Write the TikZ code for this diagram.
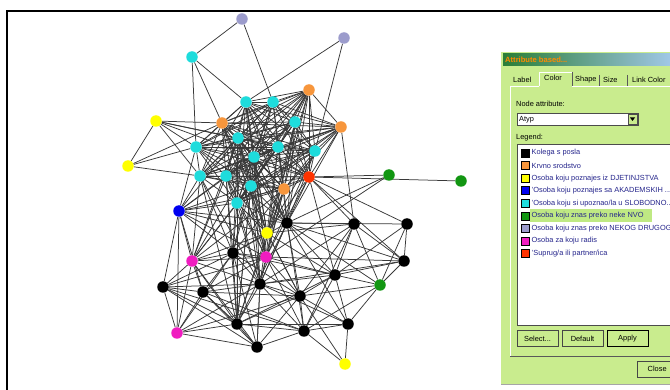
\documentclass[tikz,border=0pt]{standalone}
\usepackage{fontspec}
\setmainfont{Liberation Sans}
\usepackage{xcolor}
\definecolor{ncyan}{HTML}{1EDCDC}
\definecolor{norange}{HTML}{F7963C}
\definecolor{nlav}{HTML}{9C9CCC}
\definecolor{nyellow}{HTML}{FFFF00}
\definecolor{nblue}{HTML}{0000F0}
\definecolor{ngreen}{HTML}{129612}
\definecolor{npink}{HTML}{F01CC0}
\definecolor{nred}{HTML}{FF3300}
\definecolor{panel}{HTML}{C9EC8E}
\definecolor{rowhl}{HTML}{BFE983}
\definecolor{titlegreen}{HTML}{2A7E36}
\definecolor{titlemid}{HTML}{45975A}
\definecolor{titleblue}{HTML}{A3C9EA}
\definecolor{titleorange}{HTML}{FF8A00}
\definecolor{listtext}{HTML}{25258C}
\usepackage{tikz}
\usetikzlibrary{backgrounds}

\begin{document}
\begin{tikzpicture}[x=1pt, y=-1pt,
    dot/.style={circle, fill=#1, inner sep=0pt, minimum size=11.5pt},
    netline/.style={draw=black!78, line width=0.75pt},
    swatch/.style={draw=black, fill=#1, inner sep=0pt, minimum size=8pt},
    guitext/.style={font=\fontsize{7.4}{8}\selectfont, inner sep=0pt, anchor=west},
    btn/.style={draw=gray!55!black, fill=panel, minimum width=41pt, minimum height=16pt,
      font=\fontsize{7.4}{8}\selectfont, inner sep=0pt}]

            \useasboundingbox (0,0) rectangle (670,390);

            % frame
            \draw[line width=2pt] (7,392) -- (7,11) -- (672,11);

            % network nodes
            \node[dot=nlav] (L1) at (242,19) {};
            \node[dot=nlav] (L2) at (344,38) {};

            \node[dot=ncyan] (c1) at (192,57) {};
            \node[dot=ncyan] (c2) at (246,102) {};
            \node[dot=ncyan] (c3) at (273,102) {};
            \node[dot=ncyan] (c4) at (295,122) {};
            \node[dot=ncyan] (c5) at (238,138) {};
            \node[dot=ncyan] (c6) at (196,147) {};
            \node[dot=ncyan] (c7) at (278,147) {};
            \node[dot=ncyan] (c8) at (315,151) {};
            \node[dot=ncyan] (c9) at (254,157) {};
            \node[dot=ncyan] (c10) at (200,176) {};
            \node[dot=ncyan] (c11) at (226,176) {};
            \node[dot=ncyan] (c12) at (251,186) {};
            \node[dot=ncyan] (c13) at (237,203) {};

            \node[dot=norange] (o1) at (309,90) {};
            \node[dot=norange] (o2) at (222,123) {};
            \node[dot=norange] (o3) at (341,127) {};
            \node[dot=norange] (o4) at (284,189) {};
            \node[dot=nred] (r) at (309,177) {};

            \node[dot=nyellow] (y1) at (156,121) {};
            \node[dot=nyellow] (y2) at (128,166) {};
            \node[dot=nyellow] (y3) at (267,233) {};
            \node[dot=nyellow] (y4) at (345,364) {};
            \node[dot=nblue] (b) at (179,211) {};

            \node[dot=ngreen] (g1) at (389,175) {};
            \node[dot=ngreen] (g2) at (461,181) {};
            \node[dot=ngreen] (g3) at (380,285) {};

            \node[dot=npink] (p1) at (192,261) {};
            \node[dot=npink] (p2) at (266,257) {};
            \node[dot=npink] (p3) at (177,333) {};

            \node[dot=black] (k1) at (287,223) {};
            \node[dot=black] (k2) at (354,224) {};
            \node[dot=black] (k3) at (407,224) {};
            \node[dot=black] (k4) at (233,253) {};
            \node[dot=black] (k5) at (404,261) {};
            \node[dot=black] (k6) at (335,275) {};
            \node[dot=black] (k7) at (163,287) {};
            \node[dot=black] (k8) at (203,292) {};
            \node[dot=black] (k9) at (260,284) {};
            \node[dot=black] (k10) at (300,296) {};
            \node[dot=black] (k11) at (237,324) {};
            \node[dot=black] (k12) at (304,331) {};
            \node[dot=black] (k13) at (348,324) {};
            \node[dot=black] (k14) at (257,347) {};

            % links
            \begin{scope}[on background layer]
              \def\corelist{c2,c3,c4,c5,c6,c7,c8,c9,c10,c11,c12,c13,o1,o2,o3,o4,r}
              \foreach \a [count=\i] in \corelist {
                \foreach \b [count=\j] in \corelist {
                  \ifnum\j>\i \draw[netline] (\a) -- (\b); \fi
                }
              }
              \foreach \a in {k1,y3,p2} {
                \foreach \b in {c2,c4,c5,c7,c8,c9,c11,c12,c13,o2,o4,r} {
                  \draw[netline] (\a) -- (\b);
                }
              }
              \foreach \a in {b,k4,k9,k11,p1} {
                \foreach \b in {c5,c9,c10,c11,c12,c13,o4} {
                  \draw[netline] (\a) -- (\b);
                }
              }
              \foreach \a/\b in {L1/c1, L1/c3, L2/c2, L2/c8, c1/c2, c1/o2, c1/c6,
                  y1/y2, y1/o2, y1/c5, y1/c6, y1/c9, y1/c7, y1/c10, y2/c6, y2/c10,
                  y2/o2, o3/k2, b/c6, k1/o1, k1/o3, y3/o1}
                \draw[netline] (\a) -- (\b);
              \foreach \a/\b in {k2/k6, k2/k5, k2/g3, k2/k1, k2/k10, k2/r, k2/k12,
                  k3/k5, k3/g3, k3/k6, k3/r, k5/k6, k5/g3, k5/k1, k5/p2,
                  g3/k13, g3/k6, g3/k10, g3/k12, k6/k10, k6/k12, k6/k13, k6/k9,
                  k6/k11, k6/k4, k13/k12, k13/k11, k13/k10, k13/y4, y4/k10,
                  k12/k14, k12/k11, k12/k9, k12/k10, k12/k1, k14/k11, k14/p3,
                  k14/k7, k14/k9, k14/k8, k14/k10, k11/p3, k11/k7, k11/k8,
                  k11/k9, k11/p1, k11/y3, k11/k1, p3/k7, p3/k8, p3/b, p3/k9,
                  p3/p1, p3/k4, k7/b, k7/p1, k7/k8, k7/k9, k7/k4, k7/p2, k8/p1,
                  k8/k9, k8/k4, k8/p2, k8/k10, p1/b, p1/k4, p1/p2, p1/y3, p1/k9,
                  b/k4, b/y3, b/k1, k9/p2, k9/y3, k9/k4, k9/k10, k9/k1, k4/p2,
                  k4/y3, k4/k1, k4/k10, k10/k1, k10/p2, k10/y3, g1/k1, g1/p2,
                  r/g1, r/g2, r/k5, r/k6, k1/k6, k1/k9, y3/k6, y3/k10, p2/k6,
                  p2/k12, k4/k11, k4/k14, k9/k13, k9/k14, p1/k14, k7/k12,
                  k8/k12, k8/k11, k11/k10, b/k8, b/p2, k2/k9, k3/k1, k5/k9,
                  g3/k1, k2/y3, k13/k1, y4/k12, k11/k13, p3/k10}
                \draw[netline] (\a) -- (\b);
            \end{scope}

            % attribute panel
            \begin{scope}
              \clip (0,0) rectangle (670,390);
              \fill[panel] (501,52) rectangle (674,384);
              \draw[gray!70] (501,384) -- (674,384);
              \shade[left color=titlegreen, middle color=titlemid, right color=titleblue]
                (503,54) rectangle (674,66);
              \node[guitext, font=\fontsize{7.6}{8}\selectfont\bfseries, text=titleorange]
                (title) at (505,60) {Attribute based...};

              \draw[white] (510,356) -- (510,86) -- (539,86);
              \draw[white] (572,86) -- (674,86);
              \draw[gray!70!black] (510,356.5) -- (674,356.5);
              \draw[white] (539,86) -- (539,72) -- (572,72);
              \draw[gray!70!black] (572,72) -- (572,86);
              \draw[gray!70!black] (599,75) -- (599,86);
              \draw[gray!70!black] (627,75) -- (627,86);
              \node[guitext] (tLabel) at (513,80) {Label};
              \node[guitext] (tColor) at (544,78) {Color};
              \node[guitext] (tShape) at (575,80) {Shape};
              \node[guitext] (tSize) at (603,80) {Size};
              \node[guitext] (tLink) at (632,80) {Link Color};

              \node[guitext] (nattr) at (516,104) {Node attribute:};
              \draw[gray!60!black, fill=white] (517,113) rectangle (638,125);
              \node[guitext] (atyp) at (519,119.5) {Atyp};
              \draw[gray!60!black, fill=panel] (628,114.5) rectangle (637,124);
              \fill (630,117.5) -- (635,117.5) -- (632.5,121) -- cycle;

              \node[guitext] (legend) at (516,137.5) {Legend:};
              \draw[gray!60!black, fill=white] (517,144) rectangle (674,325);
              \fill[rowhl] (530,209.5) rectangle (652,222);
              \foreach \col/\txt [count=\i] in {black/{Kolega s posla},
                  norange/{Krvno srodstvo},
                  nyellow/{Osoba koju poznajes iz DJETINJSTVA},
                  nblue/{'Osoba koju poznajes sa AKADEMSKIH ...},
                  ncyan/{'Osoba koju si upoznao/la u SLOBODNO...},
                  ngreen/{Osoba koju znas preko neke NVO},
                  nlav/{Osoba koju znas preko NEKOG DRUGOG...},
                  npink/{Osoba za koju radis},
                  nred/{'Suprug/a ili partner/ica}} {
                \node[swatch=\col] (sw\i) at (525,153+12.55*\i-12.55) {};
                \node[guitext, text=listtext] (lg\i) at (531.5,153+12.55*\i-12.55) {\txt};
              }

              \node[btn] (select) at (537.5,338.5) {Select...};
              \node[btn] (default) at (582.5,338.5) {Default};
              \node[btn, draw=black, line width=0.9pt] (apply) at (627.5,338.5) {Apply};
              \node[btn, minimum width=40pt, anchor=west] (close) at (637,369) {Close};
            \end{scope}

          \end{tikzpicture}
\end{document}
